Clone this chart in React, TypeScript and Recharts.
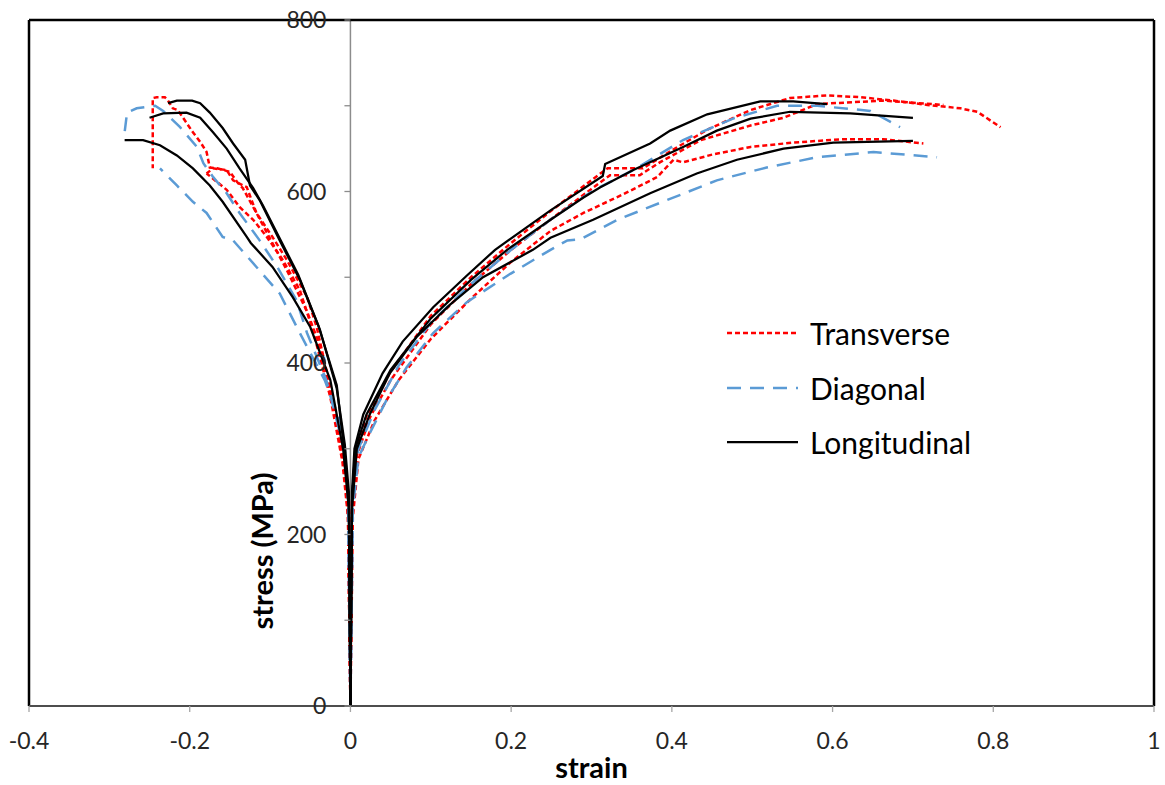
import React from "react";
import {
  LineChart,
  Line,
  XAxis,
  YAxis,
  ReferenceLine,
  Legend,
} from "recharts";

// ---------- data (strain, stress MPa) ----------
const xTicks = [-0.4, -0.2, 0, 0.2, 0.4, 0.6, 0.8, 1];
const yTicks = [0, 100, 200, 300, 400, 500, 600, 700, 800];
const X_DOMAIN: [number, number] = [-0.4, 1];
const Y_DOMAIN: [number, number] = [0, 800];

// Transverse, tension
const transverseT1: [number, number][] = [
  [0, 0], [0.002, 240], [0.006, 295], [0.02, 338], [0.05, 390], [0.1, 455], [0.15, 500],
  [0.2, 540], [0.249, 577], [0.311, 621], [0.32, 627], [0.364, 627], [0.4, 648], [0.444, 672],
  [0.498, 695], [0.547, 709], [0.593, 712], [0.634, 710], [0.676, 706], [0.718, 701],
  [0.759, 697], [0.78, 693], [0.809, 675],
];
const transverseT2: [number, number][] = [
  [0, 0], [0.002, 225], [0.008, 292], [0.025, 338], [0.05, 380], [0.1, 445], [0.15, 492],
  [0.2, 532], [0.25, 568], [0.3, 603], [0.323, 619], [0.36, 619], [0.385, 634], [0.436, 660],
  [0.498, 677], [0.539, 686], [0.581, 702], [0.663, 706], [0.738, 701],
];
const transverseT3: [number, number][] = [
  [0, 0], [0.003, 220], [0.01, 288], [0.03, 333], [0.06, 380], [0.1, 428], [0.15, 475],
  [0.2, 518], [0.249, 554], [0.29, 575], [0.34, 597], [0.382, 617], [0.402, 637], [0.414, 634],
  [0.45, 643], [0.498, 652], [0.551, 657], [0.613, 661], [0.663, 661], [0.713, 656],
];
// Transverse, compression
const transverseC1: [number, number][] = [
  [0, 0], [-0.003, 225], [-0.008, 280], [-0.02, 345], [-0.04, 425], [-0.054, 460], [-0.079, 508],
  [-0.1, 545], [-0.117, 575], [-0.134, 604], [-0.141, 611], [-0.15, 623], [-0.166, 627],
  [-0.175, 628], [-0.179, 646], [-0.187, 658], [-0.196, 669], [-0.209, 687], [-0.215, 695],
  [-0.221, 697], [-0.227, 706], [-0.231, 710], [-0.241, 710], [-0.246, 709], [-0.246, 627],
];
const transverseC2: [number, number][] = [
  [0, 0], [-0.003, 225], [-0.008, 285], [-0.02, 350], [-0.042, 442], [-0.054, 477], [-0.079, 520],
  [-0.097, 547], [-0.117, 575], [-0.129, 605], [-0.146, 613], [-0.154, 625], [-0.171, 627],
  [-0.179, 621],
];
const transverseC3: [number, number][] = [
  [0, 0], [-0.003, 220], [-0.01, 285], [-0.025, 360], [-0.047, 439], [-0.063, 485], [-0.084, 520],
  [-0.104, 547], [-0.121, 567], [-0.138, 582], [-0.154, 602], [-0.179, 621],
];

// Diagonal, tension
const diagonalT1: [number, number][] = [
  [0, 0], [0.003, 230], [0.01, 290], [0.024, 318], [0.045, 357], [0.07, 395], [0.103, 435],
  [0.145, 471], [0.199, 504], [0.249, 532], [0.27, 543], [0.286, 544], [0.332, 567], [0.394, 590],
  [0.456, 613], [0.518, 628], [0.581, 640], [0.651, 646], [0.73, 640],
];
const diagonalT2: [number, number][] = [
  [0, 0], [0.003, 260], [0.01, 300], [0.03, 345], [0.06, 397], [0.1, 447], [0.15, 492],
  [0.2, 532], [0.25, 568], [0.3, 600], [0.352, 625], [0.414, 660], [0.476, 685], [0.531, 700],
  [0.581, 700], [0.647, 694], [0.684, 675],
];
// Diagonal, compression
const diagonalC1: [number, number][] = [
  [0, 0], [-0.003, 240], [-0.007, 299], [-0.013, 333], [-0.032, 380], [-0.063, 435], [-0.088, 481],
  [-0.117, 512], [-0.146, 543], [-0.159, 547], [-0.179, 575], [-0.196, 588], [-0.216, 607],
  [-0.237, 627],
];
const diagonalC2: [number, number][] = [
  [0, 0], [-0.003, 250], [-0.008, 300], [-0.03, 380], [-0.054, 435], [-0.067, 473], [-0.091, 512],
  [-0.113, 543], [-0.138, 575], [-0.154, 598], [-0.171, 617], [-0.183, 633], [-0.191, 652],
  [-0.212, 675], [-0.233, 694], [-0.243, 700], [-0.25, 699], [-0.266, 697], [-0.278, 692],
  [-0.281, 669],
];

// Longitudinal, tension
const longitudinalT1: [number, number][] = [
  [0, 0], [0.002, 250], [0.005, 300], [0.016, 340], [0.04, 388], [0.065, 425], [0.103, 465],
  [0.145, 502], [0.18, 532], [0.249, 578], [0.314, 618], [0.317, 632], [0.373, 656],
  [0.398, 671], [0.444, 690], [0.51, 705], [0.551, 705], [0.593, 702],
];
const longitudinalT2: [number, number][] = [
  [0, 0], [0.002, 240], [0.006, 300], [0.02, 340], [0.05, 392], [0.1, 452], [0.15, 497],
  [0.195, 532], [0.249, 567], [0.29, 593], [0.311, 605], [0.352, 625], [0.414, 652],
  [0.456, 671], [0.498, 685], [0.547, 693], [0.622, 691], [0.7, 686],
];
const longitudinalT3: [number, number][] = [
  [0, 0], [0.002, 230], [0.008, 300], [0.024, 340], [0.049, 388], [0.082, 430], [0.124, 468],
  [0.165, 500], [0.227, 532], [0.249, 546], [0.302, 567], [0.373, 598], [0.431, 621],
  [0.481, 637], [0.539, 650], [0.601, 657], [0.7, 659],
];
// Longitudinal, compression
const longitudinalC1: [number, number][] = [
  [0, 0], [-0.002, 250], [-0.007, 305], [-0.017, 370], [-0.038, 439], [-0.063, 497],
  [-0.088, 543], [-0.113, 590], [-0.125, 607], [-0.131, 637], [-0.146, 656], [-0.159, 674],
  [-0.175, 692], [-0.187, 703], [-0.197, 706], [-0.216, 706], [-0.227, 703],
];
const longitudinalC2: [number, number][] = [
  [0, 0], [-0.002, 240], [-0.008, 300], [-0.017, 374], [-0.04, 444], [-0.065, 503],
  [-0.09, 549], [-0.109, 584], [-0.121, 604], [-0.138, 627], [-0.154, 650], [-0.171, 669],
  [-0.187, 686], [-0.204, 692], [-0.233, 691], [-0.25, 686],
];
const longitudinalC3: [number, number][] = [
  [0, 0], [-0.002, 230], [-0.009, 299], [-0.025, 380], [-0.05, 442], [-0.072, 477],
  [-0.097, 512], [-0.124, 540], [-0.129, 547], [-0.159, 588], [-0.175, 607], [-0.196, 627],
  [-0.216, 642], [-0.237, 654], [-0.258, 660], [-0.281, 660],
];

const groups = [
  {
    name: "Transverse",
    color: "#FF0000",
    dash: "5 3",
    width: 2.5,
    curves: [transverseT1, transverseT2, transverseT3, transverseC1, transverseC2, transverseC3],
  },
  {
    name: "Diagonal",
    color: "#5B9BD5",
    dash: "14 9",
    width: 2.5,
    curves: [diagonalT1, diagonalT2, diagonalC1, diagonalC2],
  },
  {
    name: "Longitudinal",
    color: "#000000",
    dash: undefined as string | undefined,
    width: 2.25,
    curves: [longitudinalT1, longitudinalT2, longitudinalT3, longitudinalC1, longitudinalC2, longitudinalC3],
  },
];

// ---------- layout ----------
const W = 1165;
const H = 785;
const Y_AXIS_W = 1;
const M = { top: 20, right: 11, left: 29 - Y_AXIS_W, bottom: 7 };
const X_AXIS_H = 72;
const PLOT_LEFT = M.left + Y_AXIS_W;
const PLOT_W = W - PLOT_LEFT - M.right;
const Y_AXIS_X = PLOT_LEFT + (PLOT_W * (0 - X_DOMAIN[0])) / (X_DOMAIN[1] - X_DOMAIN[0]);
const FONT = "Lato, 'Open Sans', sans-serif";

const toPts = (arr: [number, number][]) => arr.map(([x, y]) => ({ x, y }));

const YTick = (props: any) => {
  const { y, payload } = props;
  const v = payload.value;
  return (
    <g>
      <line x1={Y_AXIS_X - 6} x2={Y_AXIS_X} y1={y} y2={y} stroke="#8c8c8c" strokeWidth={1.3} />
      {v % 200 === 0 && (
        <text
          x={Y_AXIS_X - 24}
          y={y}
          dy="0.36em"
          textAnchor="end"
          fontFamily={FONT}
          fontSize={23}
          fill="#262626"
        >
          {v}
        </text>
      )}
    </g>
  );
};

const YLabel = () => (
  <text
    x={Y_AXIS_X - 89}
    y={551}
    transform={`rotate(-90, ${Y_AXIS_X - 89}, 551)`}
    textAnchor="middle"
    dominantBaseline="central"
    fontFamily={FONT}
    fontWeight="bold"
    fontSize={29}
    fill="#000"
  >
    stress (MPa)
  </text>
);

const LegendBox = () => (
  <div style={{ fontFamily: FONT }}>
    {groups.map((g) => (
      <div key={g.name} style={{ display: "flex", alignItems: "center", height: 54.5 }}>
        <svg width={71} height={10} style={{ display: "block" }}>
          <line
            x1={0}
            x2={71}
            y1={5}
            y2={5}
            stroke={g.color}
            strokeWidth={g.width}
            strokeDasharray={g.dash}
          />
        </svg>
        <span style={{ marginLeft: 12, fontSize: 30, color: "#000", lineHeight: 1 }}>{g.name}</span>
      </div>
    ))}
  </div>
);

export default function App() {
  return (
    <div style={{ position: "absolute", left: 0, top: 0, width: W, height: H, background: "#fff" }}>
      <LineChart width={W} height={H} margin={M}>
        <XAxis
          type="number"
          dataKey="x"
          domain={X_DOMAIN}
          ticks={xTicks}
          interval={0}
          allowDataOverflow
          height={X_AXIS_H}
          tickFormatter={(v: number) => String(Math.round(v * 10) / 10)}
          tick={{ fontFamily: FONT, fontSize: 23, fill: "#262626" }}
          tickSize={6}
          tickMargin={21}
          tickLine={{ stroke: "#a6a6a6", strokeWidth: 1.3 }}
          axisLine={{ stroke: "#4d4d4d", strokeWidth: 1.8 }}
          label={{
            value: "strain",
            position: "insideBottom",
            offset: 0,
            style: { fontFamily: FONT, fontWeight: "bold", fontSize: 29, fill: "#000" },
          }}
        />
        <YAxis
          type="number"
          domain={Y_DOMAIN}
          ticks={yTicks}
          interval={0}
          width={Y_AXIS_W}
          axisLine={false}
          tickLine={false}
          tick={(p: any) => <YTick {...p} />}
          label={(p: any) => <YLabel />}
        />
        <ReferenceLine x={0} stroke="#8c8c8c" strokeWidth={1.5} />
        <ReferenceLine y={800} stroke="#000" strokeWidth={2.5} />
        <ReferenceLine x={-0.4} stroke="#000" strokeWidth={2.5} />
        <ReferenceLine x={1} stroke="#000" strokeWidth={2.5} />
        <Legend
          layout="vertical"
          align="center"
          verticalAlign="middle"
          content={() => <LegendBox />}
          wrapperStyle={{ position: "absolute", left: 727, top: 306, width: 320, height: 164 }}
        />
        {groups.map((g) =>
          g.curves.map((c, i) => (
            <Line
              key={`${g.name}-${i}`}
              data={toPts(c)}
              dataKey="y"
              type="linear"
              stroke={g.color}
              strokeWidth={g.width}
              strokeDasharray={g.dash}
              dot={false}
              activeDot={false}
              legendType="none"
              isAnimationActive={false}
            />
          ))
        )}
      </LineChart>
    </div>
  );
}
